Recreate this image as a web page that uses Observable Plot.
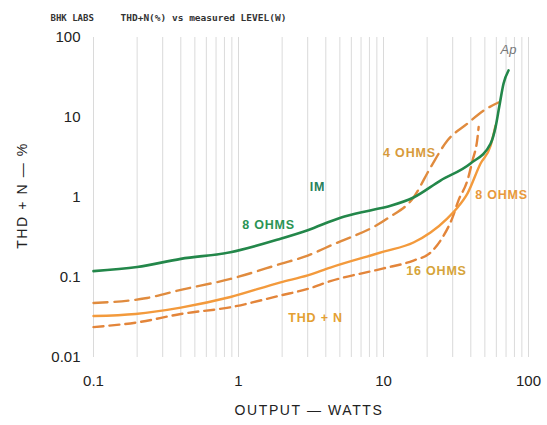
<!DOCTYPE html>
<html><head><meta charset="utf-8">
<script src="https://cdn.jsdelivr.net/npm/d3@7"></script>
<script src="https://cdn.jsdelivr.net/npm/@observablehq/plot@0.6"></script>
<style>body{margin:0;background:#fff}</style>
</head><body><div id="chart"></div>
<script>
// IM distortion, 8 ohms (solid green)
const imWatts = [0.1, 0.2, 0.4, 0.88, 1.95, 3.0, 5.05, 8.1, 11.2, 16.1, 24.7, 39.8, 54.7, 59.2, 63, 67.3, 72.8];
const imPct   = [0.12, 0.135, 0.171, 0.207, 0.305, 0.39, 0.56, 0.69, 0.79, 1.0, 1.63, 2.66, 4.7, 7.5, 14, 26.6, 38.7];
// THD+N, 4 ohms (dashed)
const thd4Watts = [0.1, 0.228, 0.4, 0.88, 1.95, 3.0, 4.3, 10.7, 16.1, 21.1, 27.6, 37.9, 49, 62];
const thd4Pct   = [0.048, 0.055, 0.07, 0.096, 0.148, 0.188, 0.25, 0.55, 1.0, 2.37, 5.16, 8.4, 12.2, 15.4];
// THD+N, 8 ohms (solid orange)
const thd8Watts = [0.1, 0.195, 0.4, 0.88, 1.95, 3.0, 4.3, 10, 16.1, 21.1, 27.6, 32.4, 37.9, 46.7, 54.7, 59.2];
const thd8Pct   = [0.033, 0.035, 0.042, 0.057, 0.087, 0.106, 0.133, 0.21, 0.274, 0.365, 0.55, 0.75, 1.12, 2.66, 4.4, 7.9];
// THD+N, 16 ohms (dashed)
const thd16Watts = [0.1, 0.204, 0.4, 0.88, 1.95, 3.0, 4.3, 10, 16.1, 21.1, 25.5, 29.9, 32.9, 37.9, 41.1, 44.5, 45.3];
const thd16Pct   = [0.024, 0.0276, 0.035, 0.0425, 0.0596, 0.072, 0.09, 0.13, 0.163, 0.205, 0.316, 0.56, 0.92, 1.63, 2.9, 5.6, 7.6];

const xTicks = [0.1, 1, 10, 100];
const yTicks = [0.01, 0.1, 1, 10, 100];

const labelText  = ["IM", "8 OHMS", "4 OHMS", "8 OHMS", "16 OHMS", "THD + N"];
const labelWatts = [3.5, 1.61, 15.1, 65.2, 23.2, 3.4];
const labelPct   = [1.37, 0.447, 3.55, 1.06, 0.122, 0.0316];
const labelColor = ["#27805a", "#2a9455", "#d79a3c", "#e8993c", "#d6a43a", "#e4a032"];

const toRows = (ws, ps) => ws.map((w, i) => ({w, p: ps[i]}));
const im = toRows(imWatts, imPct);
const t4 = toRows(thd4Watts, thd4Pct);
const t8 = toRows(thd8Watts, thd8Pct);
const t16 = toRows(thd16Watts, thd16Pct);
const labels = labelText.map((t, i) => ({t, w: labelWatts[i], p: labelPct[i], c: labelColor[i]}));

const gridX = [];
for (const d of [0.1, 1, 10]) for (let k = 1; k <= 9; k++) gridX.push(+(d * k).toPrecision(3));
gridX.push(100);

const plot = Plot.plot({
  width: 547, height: 425,
  marginLeft: 93, marginRight: 19, marginTop: 37, marginBottom: 68,
  style: {fontFamily: "Liberation Sans, sans-serif", fontSize: "15px", color: "#222", background: "#fff"},
  x: {type: "log", domain: [0.1, 100], ticks: xTicks, tickFormat: d => String(d), tickSize: 0, tickPadding: 18, label: null},
  y: {type: "log", domain: [0.01, 100], ticks: yTicks, tickFormat: d => String(d), tickSize: 0, tickPadding: 13, label: null},
  marks: [
    Plot.ruleX(gridX, {stroke: "#b0b0b0", strokeWidth: 0.8, strokeOpacity: 0.6}),
    Plot.line(t16, {x: "w", y: "p", stroke: "#e3853a", strokeWidth: 2.4, strokeDasharray: "10,6", curve: "monotone-x"}),
    Plot.line(t4, {x: "w", y: "p", stroke: "#e08b3e", strokeWidth: 2.4, strokeDasharray: "14,7", curve: "monotone-x"}),
    Plot.line(t8, {x: "w", y: "p", stroke: "#f39a3c", strokeWidth: 2.4, curve: "monotone-x"}),
    Plot.line(im, {x: "w", y: "p", stroke: "#23874a", strokeWidth: 2.6, curve: "monotone-x"}),
    Plot.text(labels, {x: "w", y: "p", text: "t", fill: "c", fontSize: 12.5, fontWeight: "bold"}),
    Plot.text(["Ap"], {x: () => 72.8, y: () => 70.8, text: d => d, fill: "#777", fontSize: 13, fontStyle: "italic"}),
    Plot.text(["BHK LABS"], {frameAnchor: "top-left", dx: -43, dy: -23, text: d => d, textAnchor: "start", fontFamily: "DejaVu Sans Mono, monospace", fontSize: 9, fontWeight: "bold", fill: "#333"}),
    Plot.text(["THD+N(%) vs measured LEVEL(W)"], {frameAnchor: "top-left", dx: 27, dy: -23, text: d => d, textAnchor: "start", fontFamily: "DejaVu Sans Mono, monospace", fontSize: 9.5, fontWeight: "bold", fill: "#333"}),
    Plot.text(["OUTPUT — WATTS"], {frameAnchor: "bottom", dx: -2, dy: 57, text: d => d, fontSize: 14, fill: "#222"}),
    Plot.text(["THD + N — %"], {frameAnchor: "left", textAnchor: "middle", dx: -71, dy: -2, rotate: -90, text: d => d, fontSize: 14, fill: "#222"})
  ]
});

const svg = d3.select(plot);
svg.selectAll("text").each(function() {
  const s = this.textContent;
  if (s === "OUTPUT — WATTS" || s === "THD + N — %") d3.select(this).style("letter-spacing", "1.6px");
  else if (/OHMS|THD \+ N|^IM$/.test(s)) d3.select(this).style("letter-spacing", "0.8px");
});
document.getElementById("chart").appendChild(plot);
</script>
</body></html>
